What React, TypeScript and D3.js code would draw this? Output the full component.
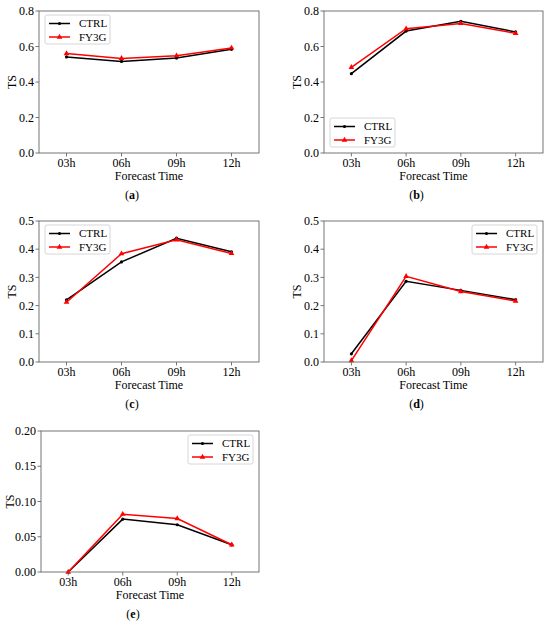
import * as d3 from "d3";

const times = ["03h", "06h", "09h", "12h"];

const ctrlA = [0.541, 0.516, 0.535, 0.584];
const fy3gA = [0.56, 0.533, 0.548, 0.592];
const ctrlB = [0.447, 0.687, 0.742, 0.682];
const fy3gB = [0.483, 0.7, 0.73, 0.674];
const ctrlC = [0.22, 0.355, 0.439, 0.391];
const fy3gC = [0.212, 0.384, 0.433, 0.385];
const ctrlD = [0.029, 0.286, 0.254, 0.221];
const fy3gD = [0.005, 0.304, 0.25, 0.216];
const ctrlE = [0.0, 0.075, 0.067, 0.0386];
const fy3gE = [0.0, 0.082, 0.0758, 0.0386];

const ticksAB = [0, 0.2, 0.4, 0.6, 0.8];
const ticksCD = [0, 0.1, 0.2, 0.3, 0.4, 0.5];
const ticksE = [0, 0.05, 0.1, 0.15, 0.2];

const FONT = "Liberation Serif, DejaVu Serif, serif";

type PanelProps = {
  x: number;
  y: number;
  w: number;
  h: number;
  ctrl: number[];
  fy3g: number[];
  ticks: number[];
  digits: number;
  tag: string;
  legend: "ul" | "ll" | "ur";
  tsX: number;
};

function Panel({ x, y, w, h, ctrl, fy3g, ticks, digits, tag, legend, tsX }: PanelProps) {
  const xs = d3.scalePoint<string>().domain(times).range([x, x + w]).padding(0.5);
  const ys = d3.scaleLinear().domain([0, ticks[ticks.length - 1]]).range([y + h, y]);
  const line = d3
    .line<number>()
    .x((_, i) => xs(times[i])!)
    .y((d) => ys(d));
  const fmt = d3.format(`.${digits}f`);
  const tri = d3.symbol(d3.symbolTriangle, 14)()!;

  // legend box, placed like matplotlib's loc
  const lw = 65;
  const lh = 29;
  const lx = legend === "ur" ? x + w - lw - 6 : x + 6;
  const ly = legend === "ll" ? y + h - lh - 6 : y + 4;

  return (
    <g fontFamily={FONT} fontSize={12} fill="#000">
      {ticks.map((t) => (
        <g key={t}>
          <line x1={x - 3.5} x2={x} y1={ys(t)} y2={ys(t)} stroke="#555" strokeWidth={0.8} />
          <text x={x - 5} y={ys(t)} dy="0.35em" textAnchor="end">
            {fmt(t)}
          </text>
        </g>
      ))}
      {times.map((t) => (
        <g key={t}>
          <line x1={xs(t)} x2={xs(t)} y1={y + h} y2={y + h + 3.5} stroke="#555" strokeWidth={0.8} />
          <text x={xs(t)} y={y + h + 14} textAnchor="middle">
            {t}
          </text>
        </g>
      ))}
      <text x={x + w / 2} y={y + h + 27} textAnchor="middle">
        Forecast Time
      </text>
      <text transform={`translate(${tsX},${y + h / 2}) rotate(-90)`} textAnchor="middle">
        TS
      </text>
      <text x={x + w / 2 - 17} y={y + h + 46} textAnchor="middle">
        (<tspan fontWeight="bold">{tag}</tspan>)
      </text>

      <path d={line(ctrl)!} fill="none" stroke="#000" strokeWidth={1.5} />
      {ctrl.map((v, i) => (
        <circle key={i} cx={xs(times[i])} cy={ys(v)} r={1.6} fill="#000" />
      ))}
      <path d={line(fy3g)!} fill="none" stroke="#ff0000" strokeWidth={1.5} />
      {fy3g.map((v, i) => (
        <path key={i} d={tri} transform={`translate(${xs(times[i])},${ys(v)})`} fill="#ff0000" />
      ))}

      <rect x={x} y={y} width={w} height={h} fill="none" stroke="#666" strokeWidth={0.9} />

      <g transform={`translate(${lx},${ly})`} fontSize={11}>
        <rect width={lw} height={lh} rx={2} fill="#fff" fillOpacity={0.8} stroke="#ccc" strokeWidth={0.8} />
        <line x1={4} x2={25} y1={8.5} y2={8.5} stroke="#000" strokeWidth={1.5} />
        <circle cx={14.5} cy={8.5} r={1.6} fill="#000" />
        <text x={34} y={8.5} dy="0.35em">CTRL</text>
        <line x1={4} x2={25} y1={22} y2={22} stroke="#ff0000" strokeWidth={1.5} />
        <path d={tri} transform="translate(14.5,22)" fill="#ff0000" />
        <text x={34} y={22} dy="0.35em">FY3G</text>
      </g>
    </g>
  );
}

export default function App() {
  return (
    <svg
      width={550}
      height={627}
      style={{ position: "absolute", left: 0, top: 0, background: "#fff" }}
    >
      <Panel x={39} y={11} w={220} h={142} ctrl={ctrlA} fy3g={fy3gA} ticks={ticksAB} digits={1} tag="a" legend="ul" tsX={16} />
      <Panel x={324} y={11} w={219} h={142} ctrl={ctrlB} fy3g={fy3gB} ticks={ticksAB} digits={1} tag="b" legend="ll" tsX={301} />
      <Panel x={39} y={221} w={220} h={141} ctrl={ctrlC} fy3g={fy3gC} ticks={ticksCD} digits={1} tag="c" legend="ul" tsX={16} />
      <Panel x={324} y={221} w={219} h={141} ctrl={ctrlD} fy3g={fy3gD} ticks={ticksCD} digits={1} tag="d" legend="ur" tsX={301} />
      <Panel x={41} y={431} w={218} h={141} ctrl={ctrlE} fy3g={fy3gE} ticks={ticksE} digits={2} tag="e" legend="ur" tsX={14} />
    </svg>
  );
}
